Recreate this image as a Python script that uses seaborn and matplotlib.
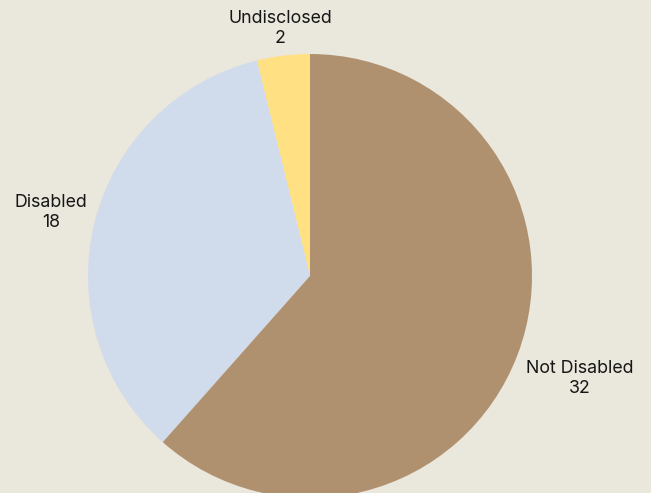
import numpy as np
import matplotlib
matplotlib.use("Agg")
import matplotlib.pyplot as plt
import seaborn as sns

# Disability status of respondents
categories = ["Undisclosed", "Disabled", "Not Disabled"]
counts = [2, 18, 32]
colors = ["#FFE082", "#D0DBEC", "#B0916F"]
label_dist = [1.125, 1.2, 1.3]

sns.set_theme(style="white")
plt.rcParams["font.family"] = ["Inter", "DejaVu Sans"]

bg = "#EAE7DD"
W, H = 651, 493
fig = plt.figure(figsize=(W / 100, H / 100), dpi=100, facecolor=bg)
ax = fig.add_axes([0, 0, 1, 1])
ax.set_facecolor(bg)

# pie geometry in pixels: centre and radius
cx, cy, R = 310, 276, 222

wedges, _ = ax.pie(counts, colors=colors, startangle=90, counterclock=True,
                   radius=1.0, center=(0, 0), frame=True,
                   wedgeprops=dict(linewidth=0))
ax.set_aspect("equal")
ax.set_xlim(-cx / R, (W - cx) / R)
ax.set_ylim(-(H - cy) / R, cy / R)
ax.axis("off")

for w, name, n, d in zip(wedges, categories, counts, label_dist):
    mid = np.deg2rad((w.theta1 + w.theta2) / 2)
    ax.text(d * np.cos(mid), d * np.sin(mid), f"{name}\n{n}",
            ha="center", va="center", fontsize=12.8, color="#161616",
            linespacing=1.22)

fig.savefig("out.png", dpi=100, facecolor=bg)
